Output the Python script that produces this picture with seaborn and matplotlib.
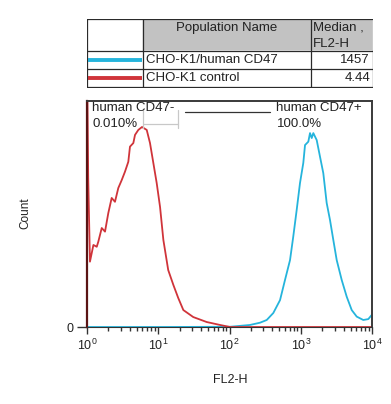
import numpy as np
import matplotlib
matplotlib.use("Agg")
import matplotlib.pyplot as plt
import seaborn as sns
from matplotlib.ticker import LogLocator, NullFormatter

# histogram traces (FL2-H value, count in % of y-range)
control_fl2 = [1.0, 1.04, 1.10, 1.23, 1.37, 1.44, 1.61, 1.79, 1.99, 2.22, 2.47, 2.75,
               3.07, 3.41, 3.80, 4.01, 4.47, 4.72, 5.25, 5.92, 6.89, 7.66, 8.53, 9.51,
               10.6, 11.8, 13.8, 16.3, 19.1, 22.5, 31.0, 47.9, 73.6, 101.6, 1000, 10000]
control_count = [120, 65.9, 28.9, 36.3, 35.5, 37.7, 43.8, 42.2, 50.4, 57.1, 55.4, 61.5,
                 65.0, 68.7, 73.1, 79.8, 81.4, 85.0, 87.2, 88.5, 87.2, 81.4, 72.6, 63.7,
                 53.1, 38.5, 25.2, 18.6, 12.8, 7.5, 4.4, 2.2, 0.9, 0, 0, 0]

cd47_fl2 = [1.0, 10, 102, 194, 268, 333, 412, 512, 601, 707, 785, 877, 976, 1086, 1148,
            1277, 1349, 1425, 1501, 1675, 1862, 2072, 2311, 2575, 2865, 3197, 3758,
            4417, 5192, 6102, 7546, 8872, 9900]
cd47_count = [0, 0, 0.1, 0.9, 1.9, 3.1, 6.2, 11.9, 20.8, 29.6, 40.0, 51.8, 63.7, 72.6,
              80.5, 82.0, 85.8, 83.6, 85.8, 82.7, 75.4, 68.1, 54.9, 47.3, 38.5, 29.6,
              20.8, 13.4, 7.5, 4.6, 3.1, 3.5, 5.3]

population_names = ["CHO-K1/human CD47", "CHO-K1 control"]
median_values = ["1457", "4.44"]
gate_labels = ["human CD47-", "human CD47+"]
gate_percents = ["0.010%", "100.0%"]
gate_line = [23.7, 370]
neg_bracket = [6.1, 18.9]

blue = "#25b4dc"
red = "#d0343a"

sns.set_theme(style="white")
plt.rcParams["font.family"] = ["Liberation Sans", "DejaVu Sans"]
plt.rcParams["mathtext.default"] = "regular"

W, H = 391, 404
fig = plt.figure(figsize=(W / 100, H / 100), dpi=100)

# ---- histogram panel
ax = fig.add_axes([87 / W, (H - 327) / H, 285 / W, 226 / H])
ax.set_xscale("log")
sns.lineplot(x=cd47_fl2, y=cd47_count, ax=ax, color=blue, lw=1.3,
             estimator=None, sort=False, clip_on=False)
sns.lineplot(x=control_fl2, y=control_count, ax=ax, color=red, lw=1.3,
             estimator=None, sort=False)
ax.set_xlim(1, 1e4)
ax.set_ylim(0, 100)
for line in ax.lines:
    line.set_clip_on(True)

ax.xaxis.set_major_locator(LogLocator(base=10, numticks=10))
ax.xaxis.set_minor_locator(LogLocator(base=10, subs=np.arange(2, 10), numticks=10))
ax.xaxis.set_minor_formatter(NullFormatter())
ax.set_yticks([0])
ax.set_yticklabels(["0"])
ax.tick_params(axis="x", which="major", length=5, width=1, color="#333333",
               bottom=True, direction="out", labelsize=9, pad=3, labelcolor="#222222")
ax.tick_params(axis="x", which="minor", length=3, width=1, color="#333333",
               bottom=True, direction="out")
ax.tick_params(axis="y", length=7, width=1, color="#333333", left=True,
               labelsize=9, pad=3, labelcolor="#222222")
fig.canvas.draw()
xt = ax.get_xticklabels()
xt[0].set_ha("left")
xt[-1].set_ha("right")

for side in ["top", "right"]:
    ax.spines[side].set_color("#3a3a3a")
    ax.spines[side].set_linewidth(1.4)
ax.spines["left"].set_color("#5a1414")
ax.spines["left"].set_linewidth(1.6)
ax.spines["bottom"].set_color("#333333")
ax.spines["bottom"].set_linewidth(0.8)

ax.set_xlabel("FL2-H", fontsize=9, color="#222222")
ax.xaxis.label.set_va("center")
ax.xaxis.set_label_coords(0.502, -0.2345)
ax.set_ylabel("Count", fontsize=8.5, color="#222222")
ax.yaxis.label.set_va("center")
ax.yaxis.set_label_coords(-0.2175, 0.504)

# gates
ax.plot(gate_line, [95.1, 95.1], color="#333333", lw=0.9)
ax.plot(neg_bracket, [89.8, 89.8], color="#c8c8c8", lw=0.9)
for xb in neg_bracket:
    ax.plot([xb, xb], [88.1, 96.0], color="#c8c8c8", lw=0.9)
ax.text(0.018, 0.969, gate_labels[0], transform=ax.transAxes, fontsize=9.5,
        va="center", ha="left", color="#222222")
ax.text(0.021, 0.898, gate_percents[0], transform=ax.transAxes, fontsize=9.5,
        va="center", ha="left", color="#222222")
ax.text(0.663, 0.969, gate_labels[1], transform=ax.transAxes, fontsize=9.5,
        va="center", ha="left", color="#222222")
ax.text(0.665, 0.898, gate_percents[1], transform=ax.transAxes, fontsize=9.5,
        va="center", ha="left", color="#222222")

# ---- legend table
tab = fig.add_axes([87 / W, (H - 88) / H, 286 / W, 69 / H])
tab.set_xlim(87, 373)
tab.set_ylim(88, 19)
tab.axis("off")
tab.add_patch(plt.Rectangle((143, 19), 230, 32, facecolor="#c2c2c2",
                            edgecolor="#ececec", lw=1.2))
col_x = [87, 143, 311, 373]
row_y = [19, 51, 69, 87]
for cx in col_x:
    tab.plot([cx, cx], [row_y[0], row_y[-1]], color="#2a2a2a", lw=0.9)
for ry in row_y:
    tab.plot([col_x[0], col_x[-1]], [ry, ry], color="#2a2a2a", lw=0.9)
tab.text(227, 28, "Population Name", fontsize=9.5, ha="center", va="center", color="#222222")
tab.text(313, 28, "Median ,", fontsize=9.5, ha="left", va="center", color="#222222")
tab.text(313, 44, "FL2-H", fontsize=9.5, ha="left", va="center", color="#222222")
for i, (name, med, c) in enumerate(zip(population_names, median_values, [blue, red])):
    yc = (row_y[i + 1] + row_y[i + 2]) / 2
    tab.plot([88, 142], [yc, yc], color=c, lw=2.8, solid_capstyle="butt")
    tab.text(146, yc, name, fontsize=9.5, ha="left", va="center", color="#222222")
    tab.text(370, yc, med, fontsize=9.5, ha="right", va="center", color="#222222")

fig.savefig("out.png", dpi=100)
